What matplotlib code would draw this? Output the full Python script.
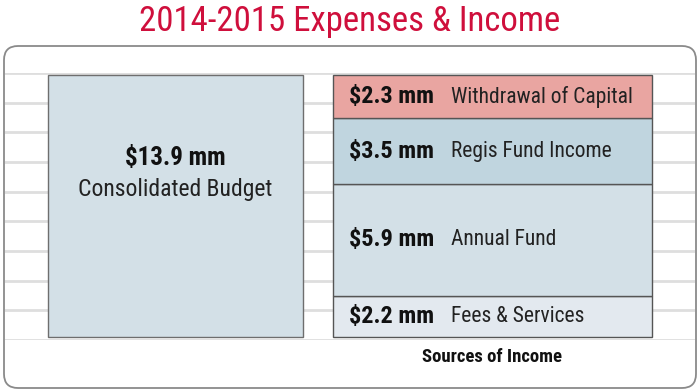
import numpy as np
import matplotlib
matplotlib.use("Agg")
import matplotlib.pyplot as plt
from matplotlib import font_manager
from matplotlib.patches import FancyBboxPatch

# data
budget_label = "Consolidated Budget"
budget_total = 13.9
income_labels = ["Fees & Services", "Annual Fund", "Regis Fund Income", "Withdrawal of Capital"]
income_values = [2.2, 5.9, 3.5, 2.3]
income_colors = ["#e3e9ef", "#d3e0e7", "#c0d5df", "#e9a5a1"]
budget_color = "#d3e0e7"

# pick a narrow font if one is installed
names = {f.name for f in font_manager.fontManager.ttflist}
font = "DejaVu Sans"
for cand in ["Liberation Sans Narrow", "Roboto Condensed", "DejaVu Sans Condensed", "Liberation Sans"]:
    if cand in names:
        font = cand
        break
plt.rcParams["font.family"] = [font, "DejaVu Sans"]

fig = plt.figure(figsize=(7, 3.92), dpi=100)

# background layer in pixel units: title + rounded frame
bg = fig.add_axes([0, 0, 1, 1])
bg.set_xlim(0, 700)
bg.set_ylim(392, 0)
bg.axis("off")
frame = FancyBboxPatch((4, 46), 692, 342, boxstyle="round,pad=0,rounding_size=14",
                       facecolor="white", edgecolor="#8a8a8a", lw=1.3)
bg.add_patch(frame)
bg.text(350, 21, "2014-2015 Expenses & Income", color="#cf0f3c", fontsize=25,
        ha="center", va="center")

# bars
ax = fig.add_axes([5 / 700, (392 - 340) / 392, 690 / 700, 267 / 392])
ax.patch.set_alpha(0)
px = 262 / budget_total
ylo = -3 / px
yhi = budget_total + 2 / px
ax.set_ylim(ylo, yhi)
ax.set_xlim(-0.538, 1.639)
ax.set_yticks(np.linspace(ylo, yhi, 10))
ax.grid(axis="y", color="#dedede", lw=2)
ax.set_axisbelow(True)
for s in ax.spines.values():
    s.set_visible(False)
ax.tick_params(left=False, bottom=False, labelleft=False, labelbottom=False)

ax.bar(0, budget_total, width=0.804, color=budget_color, edgecolor="#6e6e6e", lw=1, zorder=3)
ax.text(0, 9.5, "$%.1f mm" % budget_total, ha="center", va="center",
        fontsize=18, fontweight="bold", color="#111111", zorder=4)
ax.text(0, 7.85, budget_label, ha="center", va="center",
        fontsize=17, color="#222222", zorder=4)

bottom = 0
for lab, val, col in zip(income_labels, income_values, income_colors):
    ax.bar(1, val, width=1.006, bottom=bottom, color=col, edgecolor="#555555", lw=1, zorder=3)
    yc = bottom + val / 2
    ax.text(0.548, yc, "$%.1f mm" % val, ha="left", va="center", fontsize=17.5,
            fontweight="bold", color="#111111", zorder=4)
    ax.text(0.87, yc, lab, ha="left", va="center", fontsize=15.5, color="#222222", zorder=4)
    bottom += val

bg.text(492, 357, "Sources of Income", ha="center", va="center", fontsize=13.5,
        fontweight="bold", color="#111111")

fig.savefig("out.png", dpi=100)
